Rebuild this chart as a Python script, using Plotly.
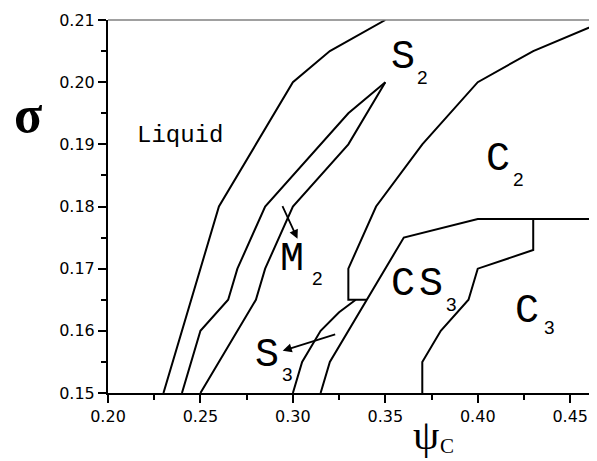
import plotly.graph_objects as go

# ---- phase boundary data (psi_C, sigma) ----
liquid_x = [0.23, 0.26, 0.30, 0.32, 0.35]
liquid_y = [0.15, 0.18, 0.20, 0.205, 0.21]

s2_left_x = [0.24, 0.25, 0.265, 0.27, 0.285, 0.33, 0.35]
s2_left_y = [0.15, 0.16, 0.165, 0.17, 0.18, 0.195, 0.20]

s2_right_x = [0.35, 0.33, 0.30, 0.285, 0.28, 0.25]
s2_right_y = [0.20, 0.19, 0.18, 0.17, 0.165, 0.15]

c2_x = [0.47, 0.43, 0.40, 0.37, 0.345, 0.33, 0.33, 0.34]
c2_y = [0.21, 0.205, 0.20, 0.19, 0.18, 0.17, 0.165, 0.165]

cs3_x = [0.315, 0.32, 0.36, 0.40, 0.47]
cs3_y = [0.15, 0.155, 0.175, 0.178, 0.178]

c3_x = [0.37, 0.37, 0.38, 0.395, 0.40, 0.43, 0.43]
c3_y = [0.15, 0.155, 0.16, 0.165, 0.17, 0.173, 0.178]

s3_x = [0.30, 0.305, 0.315, 0.325, 0.334]
s3_y = [0.15, 0.155, 0.160, 0.163, 0.165]

# arrows: (tail, head)
m2_arrow_x = [0.294, 0.3025]
m2_arrow_y = [0.1803, 0.1748]
s3_arrow_x = [0.3237, 0.2945]
s3_arrow_y = [0.1595, 0.1568]

# tick labels
x_ticks = [0.20, 0.25, 0.30, 0.35, 0.40, 0.45]
y_ticks = [0.15, 0.16, 0.17, 0.18, 0.19, 0.20, 0.21]

# region label glyphs: (text, x, y)
label_letters = [
    ("S", 0.3595, 0.2039),
    ("C", 0.4108, 0.1875),
    ("M", 0.2994, 0.1714),
    ("C", 0.3595, 0.1674),
    ("S", 0.3745, 0.1674),
    ("C", 0.4265, 0.1631),
    ("S", 0.2859, 0.1561),
]
label_subs = [
    ("2", 0.3703, 0.2008),
    ("2", 0.4222, 0.1844),
    ("2", 0.3135, 0.1684),
    ("3", 0.3860, 0.1642),
    ("3", 0.4390, 0.1605),
    ("3", 0.2973, 0.1529),
]
liquid_label = ("Liquid", 0.2388, 0.1915)

fig = go.Figure()
line_style = dict(color="black", width=2)
for xs, ys in [(liquid_x, liquid_y), (s2_left_x, s2_left_y), (s2_right_x, s2_right_y),
               (c2_x, c2_y), (cs3_x, cs3_y), (c3_x, c3_y), (s3_x, s3_y)]:
    fig.add_trace(go.Scatter(x=xs, y=ys, mode="lines", line=line_style,
                             showlegend=False, hoverinfo="skip"))

annotations = []
big_font = dict(family="Liberation Mono", size=40, color="black")
sub_font = dict(family="Liberation Sans", size=19, color="black")
for txt, x, y in label_letters:
    annotations.append(dict(x=x, y=y, xref="x", yref="y", text=txt, showarrow=False,
                            font=big_font, xanchor="center", yanchor="middle"))
for txt, x, y in label_subs:
    annotations.append(dict(x=x, y=y, xref="x", yref="y", text=txt, showarrow=False,
                            font=sub_font, xanchor="center", yanchor="middle"))
annotations.append(dict(x=liquid_label[1], y=liquid_label[2], xref="x", yref="y",
                        text=liquid_label[0], showarrow=False,
                        font=dict(family="Liberation Mono", size=24, color="black"),
                        xanchor="center", yanchor="middle"))

for ax_, ay_ in [(m2_arrow_x, m2_arrow_y), (s3_arrow_x, s3_arrow_y)]:
    annotations.append(dict(x=ax_[1], y=ay_[1], ax=ax_[0], ay=ay_[0],
                            xref="x", yref="y", axref="x", ayref="y",
                            text="", showarrow=True, arrowhead=2, arrowsize=1,
                            arrowwidth=1.8, arrowcolor="black", standoff=0, startstandoff=0))

# axis titles
annotations.append(dict(x=-0.163, y=0.746, xref="paper", yref="paper", text="<b>σ</b>",
                        showarrow=False, xanchor="center", yanchor="middle",
                        font=dict(family="Liberation Serif", size=52, color="black")))
annotations.append(dict(x=0.3719, y=-0.112, xref="x", yref="paper", text="ψ",
                        showarrow=False, xanchor="center", yanchor="middle",
                        font=dict(family="Liberation Serif", size=42, color="black")))
annotations.append(dict(x=0.3835, y=-0.142, xref="x", yref="paper", text="C",
                        showarrow=False, xanchor="center", yanchor="middle",
                        font=dict(family="Liberation Serif", size=21, color="black")))

fig.update_layout(
    width=589, height=453,
    margin=dict(l=100, r=0, t=12, b=68),
    paper_bgcolor="white", plot_bgcolor="white",
    annotations=annotations,
    shapes=[dict(type="line", xref="paper", yref="paper", x0=0, x1=1, y0=1, y1=1,
                 line=dict(color="#808080", width=1.5))],
)
fig.update_xaxes(range=[0.2, 0.4645], tickvals=x_ticks,
                 ticktext=[f"{v:.2f}" for v in x_ticks],
                 showline=True, linecolor="black", linewidth=2,
                 ticks="outside", ticklen=8, tickwidth=2, tickcolor="black",
                 minor=dict(dtick=0.025, tick0=0.2, ticks="outside", ticklen=5, tickwidth=2, tickcolor="black"),
                 showgrid=False, zeroline=False,
                 tickfont=dict(family="DejaVu Sans", size=16, color="black"))
fig.update_yaxes(range=[0.15, 0.21], tickvals=y_ticks,
                 ticktext=[f"{v:.2f}" for v in y_ticks],
                 showline=True, linecolor="black", linewidth=2,
                 ticks="outside", ticklen=8, tickwidth=2, tickcolor="black",
                 minor=dict(dtick=0.005, tick0=0.15, ticks="outside", ticklen=5, tickwidth=2, tickcolor="black"),
                 showgrid=False, zeroline=False,
                 tickfont=dict(family="DejaVu Sans", size=16, color="black"))

fig.write_html("out.html")
